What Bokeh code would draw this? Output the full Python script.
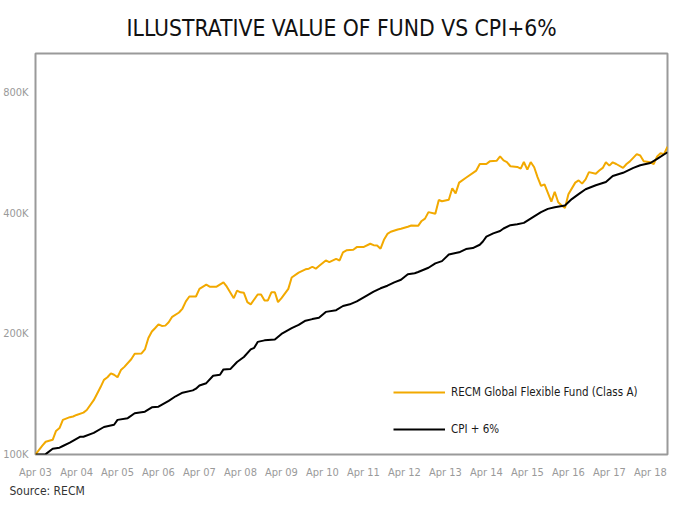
import pandas as pd
from bokeh.plotting import figure
from bokeh.models import (Range1d, FixedTicker, DatetimeTickFormatter, PrintfTickFormatter,
                          Title, Legend, LegendItem)
from bokeh.embed import file_html
from bokeh.resources import INLINE

# ---------------- data (values in R thousands, months since Apr 2003) ----------------
START = "2003-04-01"

fund_month = [0, 2, 3, 5, 6, 7, 8, 10, 11, 12, 14, 15, 17, 18, 19, 20, 21, 22, 23, 24, 25, 26, 28, 29,
              31, 32, 33, 34, 35, 36, 37, 38, 39, 40, 42, 43, 44, 45, 47, 48, 50, 51, 53, 55, 56, 58,
              59, 60, 61, 62, 63, 65, 66, 67, 68, 69, 70, 71, 72, 74, 75, 77, 79, 80, 81, 82, 83, 85,
              86, 88, 89, 90, 91, 93, 94, 96, 98, 99, 100, 101, 102, 103, 104, 106, 107, 109, 110,
              112, 113, 114, 115, 117, 118, 119, 121, 122, 123, 124, 126, 129, 130, 132, 133, 135,
              136, 137, 138, 139, 141, 142, 143, 144, 145, 146, 147, 148, 149, 151, 152, 153, 154,
              155, 156, 158, 159, 160, 161, 162, 164, 165, 166, 167, 168, 169, 170, 172, 173, 174,
              176, 177, 178, 180, 181, 182, 183, 184, 185]
fund_value = [100.0, 105.2, 107.6, 108.8, 114.5, 116.4, 122.0, 123.9, 124.4, 125.5, 127.2, 129.1,
              136.6, 141.8, 147.3, 153.5, 155.8, 159.4, 158.1, 155.8, 162.4, 165.4, 172.8, 178.4,
              178.7, 182.8, 195.2, 202.6, 206.5, 211.2, 209.2, 209.6, 213.6, 220.5, 226.0, 231.2,
              240.9, 247.8, 247.8, 258.8, 265.1, 262.1, 262.1, 268.6, 262.1, 245.4, 256.3, 253.8,
              253.0, 239.9, 236.9, 250.6, 250.6, 242.2, 242.2, 253.8, 253.8, 239.9, 245.4, 258.8,
              276.3, 284.1, 289.6, 290.6, 293.9, 290.6, 295.1, 304.7, 301.8, 307.4, 304.7, 319.3,
              322.9, 324.1, 329.0, 329.0, 335.4, 332.7, 332.2, 326.0, 343.0, 354.8, 359.4, 364.1,
              365.5, 369.7, 372.4, 371.8, 382.3, 387.4, 402.2, 398.4, 431.1, 428.0, 432.0, 461.3,
              447.8, 476.4, 490.0, 510.6, 530.2, 530.2, 538.3, 540.1, 553.7, 541.3, 536.2, 523.4,
              521.4, 516.3, 536.2, 513.4, 536.2, 520.5, 491.8, 467.6, 471.9, 427.2, 452.1, 425.6,
              417.8, 412.1, 445.9, 476.4, 482.6, 473.7, 485.3, 506.0, 501.2, 510.6, 518.4, 535.3,
              525.2, 535.3, 530.2, 518.4, 530.2, 538.3, 561.0, 556.8, 538.3, 535.3, 530.2, 553.7,
              564.1, 561.0, 585.7]

cpi_month = [0, 3, 5, 7, 8, 10, 13, 14, 17, 20, 23, 24, 27, 29, 32, 34, 36, 39, 41, 43, 46, 47, 48,
             50, 52, 54, 55, 57, 59, 61, 63, 64, 65, 67, 70, 72, 75, 77, 79, 81, 83, 85, 88, 90, 92,
             94, 97, 99, 101, 103, 105, 107, 109, 111, 112, 115, 117, 119, 121, 123, 124, 126, 128,
             130, 131, 132, 134, 136, 137, 139, 141, 143, 146, 148, 150, 152, 155, 157, 159, 161,
             164, 167, 169, 172, 175, 177, 180, 182, 185]
cpi_value = [100.0, 100.2, 103.4, 104.0, 105.0, 107.0, 110.7, 110.7, 113.2, 117.1, 118.6, 122.0,
             123.2, 126.7, 127.9, 131.1, 131.6, 136.1, 139.7, 142.6, 144.5, 145.9, 148.6, 150.6,
             157.2, 158.1, 163.0, 163.3, 170.1, 175.0, 182.8, 184.5, 190.9, 192.6, 193.5, 199.8,
             206.5, 210.4, 215.6, 217.6, 219.3, 226.8, 229.0, 234.6, 236.9, 240.9, 249.1, 254.9,
             259.7, 263.6, 268.6, 272.7, 281.5, 283.1, 285.2, 292.2, 299.6, 303.5, 315.2, 318.0,
             319.3, 325.3, 327.1, 333.5, 339.7, 349.4, 356.0, 360.8, 366.1, 373.2, 375.3, 378.1,
             392.6, 402.2, 409.8, 413.8, 417.8, 433.5, 445.9, 458.7, 469.2, 478.3, 494.7, 504.0,
             518.4, 526.4, 533.2, 546.3, 567.2]

tick_years = list(range(2003, 2019))
y_ticks = [100, 200, 400, 800]
y_min, y_max = 100, 1000

title_text = "ILLUSTRATIVE VALUE OF FUND VS CPI+6%"
fund_label = "RECM Global Flexible Fund (Class A)"
cpi_label = "CPI + 6%"
source_text = "Source: RECM"

# ---------------- helpers ----------------
def to_dates(months):
    base = pd.Timestamp(START)
    return [base + pd.DateOffset(months=int(m)) for m in months]

fund_x = to_dates(fund_month)
cpi_x = to_dates(cpi_month)
x_start = pd.Timestamp(START)
x_end = to_dates([max(fund_month)])[0]
tick_ms = [pd.Timestamp(f"{y}-04-01").value // 10**6 for y in tick_years]

COND = "'DejaVu Sans Condensed', 'Liberation Sans Narrow', sans-serif"
GOLD = "#F2A900"
GREY = "#9a9a9a"

p = figure(width=671, height=497, x_axis_type="datetime", y_axis_type="log",
           x_range=Range1d(x_start, x_end), y_range=Range1d(y_min, y_max),
           output_backend="svg", toolbar_location=None,
           min_border_left=35, min_border_right=4, min_border_top=50, min_border_bottom=39)

p.title.text = title_text
p.title.align = "left"
p.title.offset = 91
p.title.text_font = "'DejaVu Sans Condensed', sans-serif"
p.title.text_font_size = "22.7px"
p.title.text_font_style = "normal"
p.title.text_color = "#111111"
p.title.standoff = 25

r_fund = p.line(fund_x, fund_value, line_color=GOLD, line_width=2)
r_cpi = p.line(cpi_x, cpi_value, line_color="#000000", line_width=2)

p.xgrid.visible = False
p.ygrid.visible = False
p.outline_line_color = GREY
p.outline_line_width = 2
p.background_fill_color = "white"
p.border_fill_color = "white"

xa = p.xaxis[0]
xa.ticker = FixedTicker(ticks=tick_ms)
fmt = "%b %y"
xa.formatter = DatetimeTickFormatter(milliseconds=fmt, seconds=fmt, minsec=fmt, minutes=fmt,
                                     hourmin=fmt, hours=fmt, days=fmt, months=fmt, years=fmt)
ya = p.yaxis[0]
ya.ticker = FixedTicker(ticks=y_ticks)
ya.formatter = PrintfTickFormatter(format="%dK")

for ax in (xa, ya):
    ax.axis_line_color = None
    ax.major_tick_line_color = None
    ax.minor_tick_line_color = None
    ax.major_tick_in = 0
    ax.major_tick_out = 0
    ax.minor_tick_in = 0
    ax.minor_tick_out = 0
    ax.major_label_text_font = COND
    ax.major_label_text_font_size = "11px"
    ax.major_label_text_color = GREY
xa.major_label_standoff = 11
ya.major_label_standoff = 7

legend = Legend(items=[LegendItem(label=fund_label, renderers=[r_fund]),
                       LegendItem(label=cpi_label, renderers=[r_cpi])],
                location=(358, 15), border_line_color=None, background_fill_alpha=0,
                glyph_width=52, glyph_height=20, label_standoff=6, spacing=17,
                padding=0, margin=0, label_text_font=COND, label_text_font_size="11.5px",
                label_text_color="#1a1a1a")
p.add_layout(legend)

src = Title(text=source_text, align="left", offset=-26, text_font=COND,
            text_font_size="12px", text_font_style="normal", text_color="#333333",
            standoff=0)
p.add_layout(src, "below")

open("out.html", "w").write(file_html(p, INLINE))
